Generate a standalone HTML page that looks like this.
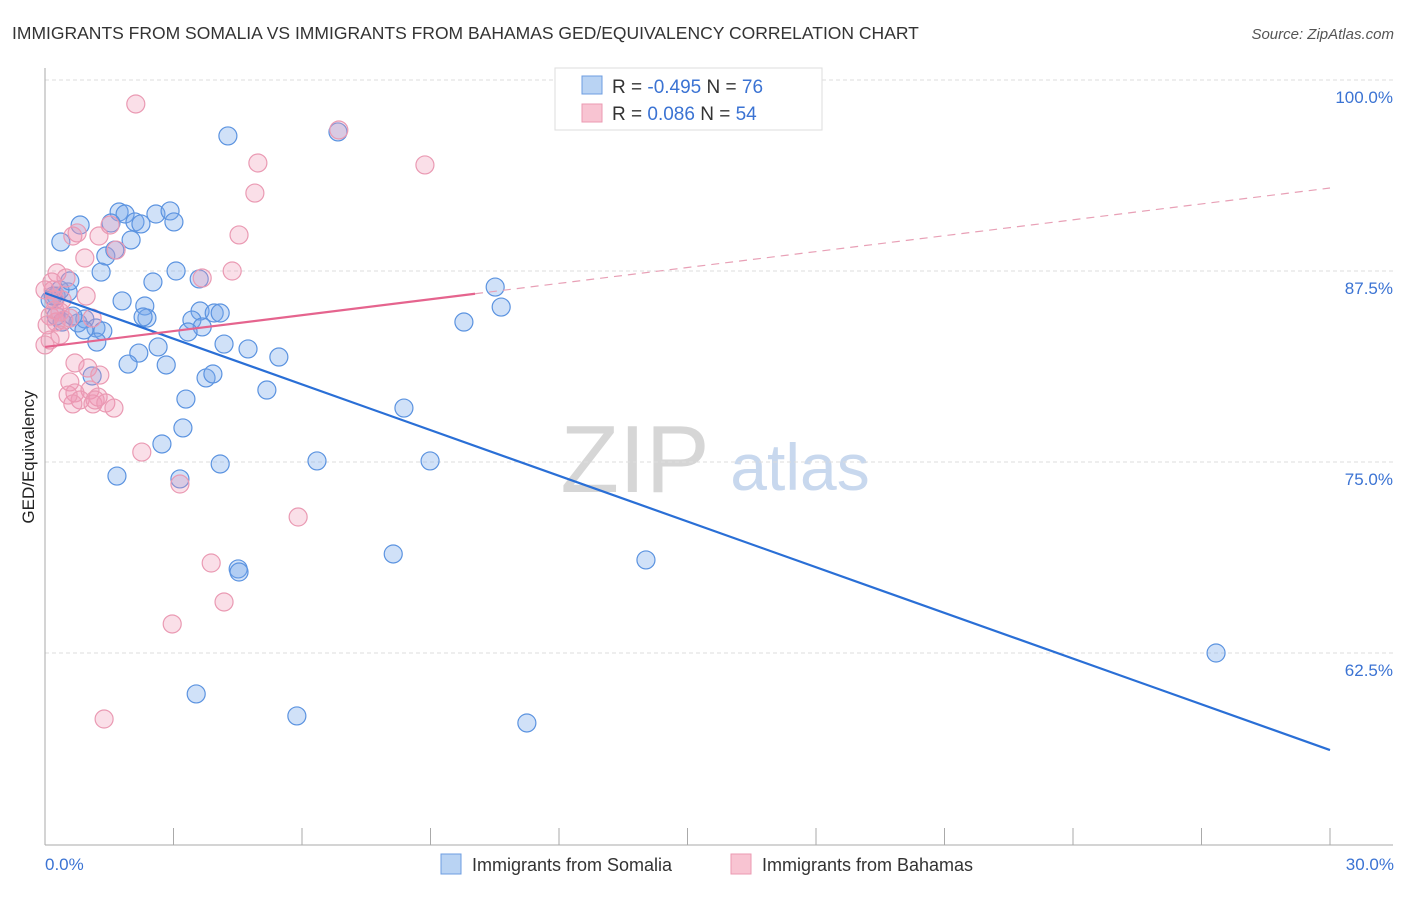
<!DOCTYPE html>
<html><head><meta charset="utf-8"><style>
body{margin:0;background:#fff;font-family:"Liberation Sans",sans-serif}
svg text{font-family:"Liberation Sans",sans-serif}
</style></head><body>
<svg id="chart" width="1406" height="892" xmlns="http://www.w3.org/2000/svg">
<text x="12" y="39" font-size="17.5" fill="#333">IMMIGRANTS FROM SOMALIA VS IMMIGRANTS FROM BAHAMAS GED/EQUIVALENCY CORRELATION CHART</text>
<text x="1394" y="39" font-size="15" fill="#555" font-style="italic" text-anchor="end">Source: ZipAtlas.com</text>
<text x="635" y="492" font-size="96" fill="#d6d6d6" font-family="Liberation Serif,serif" text-anchor="middle">ZIP</text>
<text x="800" y="490" font-size="66" fill="#c8d8ee" text-anchor="middle">atlas</text>
<g id="grid"></g>
<g id="axes"></g>
<g id="pts"></g>
<g id="lines"></g>
<text transform="translate(34,457) rotate(-90)" font-size="17" fill="#222" text-anchor="middle">GED/Equivalency</text>
<text x="45" y="870" font-size="17" fill="#3b73d3">0.0%</text>
<text x="1394" y="870" font-size="17" fill="#3b73d3" text-anchor="end">30.0%</text>
<g>
<rect x="555" y="68" width="267" height="62" fill="#fff" stroke="#ddd"/>
<rect x="582" y="76" width="20" height="18" fill="#b9d3f3" stroke="#6d9de0"/>
<rect x="582" y="104" width="20" height="18" fill="#f8c4d2" stroke="#eb9ab2"/>
<text x="612" y="93" font-size="19" fill="#333">R = <tspan fill="#3b73d3">-0.495</tspan>   N = <tspan fill="#3b73d3">76</tspan></text>
<text x="612" y="120" font-size="19" fill="#333">R =   <tspan fill="#3b73d3">0.086</tspan>   N = <tspan fill="#3b73d3">54</tspan></text>
</g>
<g>
<rect x="441" y="854" width="20" height="20" fill="#b9d3f3" stroke="#6d9de0"/>
<text x="472" y="871" font-size="18" fill="#333">Immigrants from Somalia</text>
<rect x="731" y="854" width="20" height="20" fill="#f8c4d2" stroke="#eb9ab2"/>
<text x="762" y="871" font-size="18" fill="#333">Immigrants from Bahamas</text>
</g>
</svg>
<script>
const yTicks=[100,87.5,75,62.5];
const yTickLabels=["100.0%","87.5%","75.0%","62.5%"];
const xTicks=[0,3,6,9,12,15,18,21,24,27,30];
const blueX=[4.27,6.84,0.37,0.82,1.73,1.87,2.10,2.24,2.59,2.92,3.01,1.54,2.01,1.42,1.31,1.63,3.06,2.52,3.60,1.80,2.33,2.38,2.29,3.62,3.95,4.09,3.43,3.67,3.34,2.64,2.19,2.83,1.94,4.18,4.74,5.46,3.76,3.92,1.10,3.29,5.18,8.38,3.22,2.73,1.68,3.15,4.09,6.35,8.99,4.51,4.53,8.13,14.03,27.34,3.53,5.88,11.25,9.78,10.51,10.65,0.26,0.54,0.35,0.12,0.77,0.93,1.19,1.35,0.91,1.21,0.58,0.19,0.26,0.40,0.65];
const blueY=[96.34,96.60,89.40,90.51,91.36,91.23,90.71,90.58,91.23,91.43,90.71,90.64,89.53,88.48,87.43,88.87,87.50,86.78,86.98,85.54,85.21,84.42,84.49,84.88,84.75,84.75,84.29,83.84,83.51,82.53,82.13,81.35,81.41,82.72,82.40,81.87,80.50,80.76,80.63,79.12,79.71,78.53,77.23,76.18,74.08,73.89,74.87,75.07,75.07,68.00,67.80,68.98,68.59,62.50,59.82,58.38,57.92,84.16,86.45,85.14,85.86,86.13,86.26,85.60,84.10,84.36,83.77,83.57,83.64,82.85,86.85,85.86,84.55,84.16,84.55];
const pinkX=[2.12,6.86,8.87,4.97,4.90,4.53,4.37,3.67,0.65,0.75,1.26,1.52,1.66,0.93,0.28,0.49,0.96,0.19,0.23,0.12,0.26,0.44,0.58,0.35,0.12,0.70,1.00,1.28,0.58,1.05,0.70,0.82,0.65,1.12,1.24,1.42,1.61,2.26,3.15,5.91,3.88,4.18,2.97,1.38,0,0.23,0.05,1.10,0.40,0,0.54,1.17,0.16,0.35];
const pinkY=[98.43,96.73,94.44,94.57,92.60,89.86,87.50,87.04,89.79,89.99,89.79,90.51,88.87,88.35,87.37,87.04,85.86,86.26,85.60,84.55,84.16,84.29,84.42,83.31,82.98,81.48,81.15,80.69,80.24,79.71,79.52,79.06,78.80,78.80,79.25,78.86,78.53,75.65,73.56,71.40,68.39,65.84,64.40,58.18,82.66,84.95,83.97,84.42,85.60,86.26,79.38,79.06,86.78,84.82];
const blueFit=[86.06,56.15];
const pinkFit=[82.53,92.93];
const pinkSolidEnd=10.04;
const NS="http://www.w3.org/2000/svg";
const X0=45,X1=1330,Y100=80,PXY=15.28;
function sx(v){return X0+(X1-X0)*v/30;}
function sy(v){return Y100+(100-v)*PXY;}
function mk(tag,attrs,parent){const e=document.createElementNS(NS,tag);for(const k in attrs)e.setAttribute(k,attrs[k]);parent.appendChild(e);return e;}
const grid=document.getElementById('grid'),axes=document.getElementById('axes'),pts=document.getElementById('pts'),lines=document.getElementById('lines');
yTicks.forEach((t,i)=>{
  const l=mk('line',{x1:X0,x2:1393,y1:sy(t),y2:sy(t),stroke:'#ddd','stroke-dasharray':'4,3'},grid);
  
  
  const tx=mk('text',{x:1393,y:sy(t)+23,'font-size':17,fill:'#3b73d3','text-anchor':'end'},grid);
  tx.textContent=yTickLabels[i];
  
  
});
const ya=mk('line',{x1:X0,x2:X0,y1:68,y2:845,stroke:'#aaa'},axes);


const xa=mk('line',{x1:X0,x2:1393,y1:845,y2:845,stroke:'#aaa'},axes);


xTicks.forEach(t=>{
  const l=mk('line',{x1:sx(t),x2:sx(t),y1:828,y2:845,stroke:'#aaa'},axes);
  
  
});
blueX.forEach((x,i)=>{
  const c=mk('circle',{cx:sx(x),cy:sy(blueY[i]),r:9,fill:'rgba(120,170,235,0.35)',stroke:'#5b93e0','stroke-width':1.2},pts);
  
  
});
pinkX.forEach((x,i)=>{
  const c=mk('circle',{cx:sx(x),cy:sy(pinkY[i]),r:9,fill:'rgba(240,150,180,0.3)',stroke:'#ea9ab3','stroke-width':1.2},pts);
  
  
});
const bl=mk('line',{x1:sx(0),y1:sy(blueFit[0]),x2:sx(30),y2:sy(blueFit[1]),stroke:'#2a6fd6','stroke-width':2.2},lines);


const pAt=x=>pinkFit[0]+(pinkFit[1]-pinkFit[0])*x/30;
const pl=mk('line',{x1:sx(0),y1:sy(pinkFit[0]),x2:sx(pinkSolidEnd),y2:sy(pAt(pinkSolidEnd)),stroke:'#e5648e','stroke-width':2.2},lines);


const pd=mk('line',{x1:sx(pinkSolidEnd),y1:sy(pAt(pinkSolidEnd)),x2:sx(30),y2:sy(pinkFit[1]),stroke:'#e8a0b6','stroke-width':1.2,'stroke-dasharray':'8,6'},lines);


</script>
</body></html>
